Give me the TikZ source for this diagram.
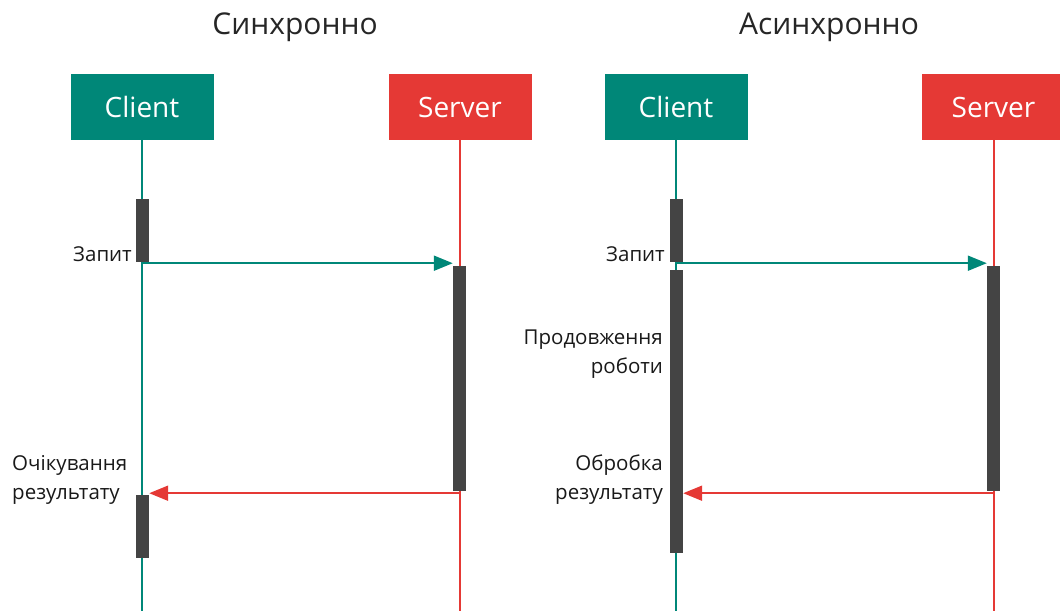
\documentclass[tikz,border=0pt]{standalone}
\usepackage{fontspec}
\setmainfont{Open Sans}
\usepackage{xcolor}
\usepackage{tikz}
\usetikzlibrary{arrows.meta, positioning, calc}
\definecolor{clientc}{RGB}{0,135,120}
\definecolor{serverc}{RGB}{229,57,53}
\definecolor{barc}{RGB}{68,68,68}
\tikzset{
  title/.style   = {font=\fontsize{30}{34}\selectfont, text=black!85},
  clientbox/.style = {rectangle, fill=clientc, text=white, minimum width=143pt,
                     minimum height=66pt, inner sep=0pt, font=\fontsize{28}{32}\selectfont},
  serverbox/.style = {rectangle, fill=serverc, text=white, minimum width=143pt,
                     minimum height=66pt, inner sep=0pt, font=\fontsize{28}{32}\selectfont},
  actbar/.style  = {rectangle, fill=barc, minimum width=13pt, inner sep=0pt},
  clientline/.style = {line width=2pt, draw=clientc},
  serverline/.style = {line width=2pt, draw=serverc},
  req/.style     = {line width=2pt, draw=clientc, -{Triangle[length=19pt,width=15pt]}},
  resp/.style    = {line width=2pt, draw=serverc, -{Triangle[length=19pt,width=15pt]}},
  lbl/.style     = {font=\fontsize{20.5}{29}\selectfont, text=black!90, inner sep=0pt},
}

\begin{document}
\begin{tikzpicture}[x=1pt, y=-1pt]
    \useasboundingbox (0,0) rectangle (1060,611);

    %% Titles
    \node[title] (tsync)  at (295,27) {Синхронно};
    \node[title] (tasync) at (829,27) {Асинхронно};

    %% Participants
    \node[clientbox] (client1) at (142,107)   {Client};
    \node[serverbox] (server1) at (460,107)   {Server};
    \node[clientbox] (client2) at (676,107)   {Client};
    \node[serverbox] (server2) at (993.5,107) {Server};

    %% Lifeline ends
    \coordinate (c1end) at (142,611);
    \coordinate (s1end) at (460,611);
    \coordinate (c2end) at (676,611);
    \coordinate (s2end) at (993.5,611);

    %% Lifelines
    \draw[clientline] (client1.south) -- (c1end);
    \draw[serverline] (server1.south) -- (s1end);
    \draw[clientline] (client2.south) -- (c2end);
    \draw[serverline] (server2.south) -- (s2end);

    %% Activation bars, synchronous side
    \node[actbar, minimum height=63pt]  (ca1) at (142.5,230.5) {};
    \node[actbar, minimum height=225pt] (sa1) at (459.5,378.5) {};
    \node[actbar, minimum height=63pt]  (cb1) at (142.5,526.5) {};

    %% Activation bars, asynchronous side
    \node[actbar, minimum height=63pt]  (ca2) at (676.5,230.5) {};
    \node[actbar, minimum height=225pt] (sa2) at (993.5,378.5) {};
    \node[actbar, minimum height=283pt] (cb2) at (676.5,411.5) {};

    %% Messages
    \draw[req]  ([yshift=-1pt]ca1.south) -- ([yshift=-1pt]ca1.south -| sa1.west);
    \draw[resp] ([yshift=-2pt]sa1.south) -- ([yshift=-2pt]sa1.south -| cb1.east);
    \draw[req]  ([yshift=-1pt]ca2.south) -- ([yshift=-1pt]ca2.south -| sa2.west);
    \draw[resp] ([yshift=-2pt]sa2.south) -- ([yshift=-2pt]sa2.south -| cb2.east);

    %% Labels
    \node[lbl, anchor=base east] (q1) at (132,261) {Запит};
    \node[lbl, anchor=base east] (q2) at (665,261) {Запит};
    \node[lbl, anchor=base west, align=left]  (wait) at (12,499)  {Очікування\\результату};
    \node[lbl, anchor=base east, align=right] (cont) at (663,373) {Продовження\\роботи};
    \node[lbl, anchor=base east, align=right] (proc) at (663,499) {Обробка\\результату};

\end{tikzpicture}
\end{document}
